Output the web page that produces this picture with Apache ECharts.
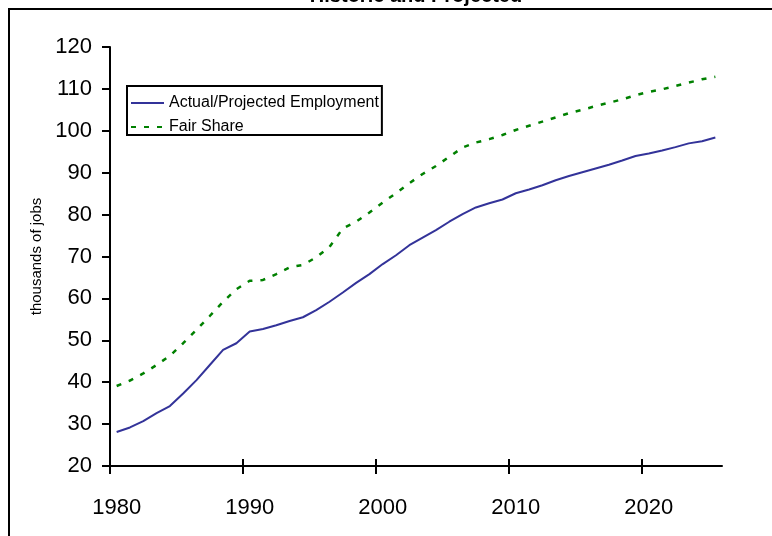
<!DOCTYPE html>
<html>
<head>
<meta charset="utf-8">
<script src="https://cdn.jsdelivr.net/npm/echarts@6/dist/echarts.min.js"></script>
<style>
  html, body { margin: 0; padding: 0; background: #fff; }
  #chart { width: 772px; height: 536px; }
</style>
</head>
<body>
<div id="chart"></div>
<script>
var years = ['1980','1981','1982','1983','1984','1985','1986','1987','1988','1989',
             '1990','1991','1992','1993','1994','1995','1996','1997','1998','1999',
             '2000','2001','2002','2003','2004','2005','2006','2007','2008','2009',
             '2010','2011','2012','2013','2014','2015','2016','2017','2018','2019',
             '2020','2021','2022','2023','2024','2025'];
var actualEmployment = [28.1, 29.2, 30.7, 32.6, 34.3, 37.3, 40.5, 44.1, 47.7, 49.3,
                        52.1, 52.7, 53.6, 54.6, 55.5, 57.2, 59.2, 61.4, 63.7, 65.8,
                        68.2, 70.3, 72.7, 74.5, 76.3, 78.3, 80.1, 81.7, 82.7, 83.6,
                        85.1, 86.0, 87.0, 88.2, 89.2, 90.1, 91.0, 91.9, 92.9, 94.0,
                        94.6, 95.3, 96.1, 97.0, 97.5, 98.4];
var fairShare = [39.1, 40.4, 42.1, 44.1, 46.3, 49.3, 52.5, 55.8, 59.2, 62.2,
                 64.2, 64.4, 65.8, 67.4, 68.0, 69.8, 72.3, 76.7, 78.3, 80.5,
                 82.9, 85.1, 87.5, 89.7, 91.6, 93.8, 96.0, 97.2, 98.0, 99.0,
                 100.2, 101.2, 102.2, 103.2, 104.2, 105.0, 105.9, 106.7, 107.5, 108.5,
                 109.3, 109.9, 110.7, 111.5, 112.3, 112.9];
// decade tick positions, counted in categories from the start of the axis
var decadeTicks = [0, 10, 20, 30, 40];
var seriesNames = ['Actual/Projected Employment', 'Fair Share'];
var titleText = 'Historic and Projected';
var yAxisTitle = 'thousands of jobs';

var FONT = '"Liberation Sans", Arial, sans-serif';
var chart = echarts.init(document.getElementById('chart'), null, { renderer: 'canvas' });

function tickAxis(inside, len) {
  return {
    type: 'value',
    position: 'bottom',
    min: 0, max: years.length, interval: 10,
    axisLine: { show: false },
    axisTick: { show: true, inside: inside, length: len, customValues: decadeTicks,
                lineStyle: { color: '#000', width: 2 } },
    axisLabel: { show: false },
    splitLine: { show: false }
  };
}

var option = {
  animation: false,
  backgroundColor: '#ffffff',
  textStyle: { fontFamily: FONT },
  graphic: [
    { type: 'rect', shape: { x: 9, y: 9, width: 900, height: 700 },
      style: { fill: 'none', stroke: '#000', lineWidth: 2 }, silent: true },
    { type: 'text', x: 416, y: 6,
      style: { text: titleText, font: 'bold 20px "Liberation Sans", Arial, sans-serif',
               fill: '#000', textAlign: 'center', textVerticalAlign: 'bottom' } }
  ],
  grid: { left: 110, right: 50, top: 47, bottom: 70, containLabel: false },
  legend: {
    orient: 'vertical',
    left: 127, top: 86,
    padding: [9, 3, 0, 3],
    itemGap: 8,
    itemWidth: 33, itemHeight: 14,
    borderColor: '#000', borderWidth: 2,
    backgroundColor: '#fff',
    itemStyle: { opacity: 0 },
    textStyle: { fontSize: 16, lineHeight: 14, color: '#000', fontFamily: FONT },
    data: seriesNames
  },
  xAxis: [{
    type: 'category',
    data: years,
    boundaryGap: true,
    axisLine: { show: true, lineStyle: { color: '#000', width: 2 } },
    axisTick: { show: false },
    axisLabel: { interval: 9, fontSize: 22, color: '#000', margin: 31, fontFamily: FONT },
    splitLine: { show: false }
  }, tickAxis(false, 8), tickAxis(true, 7)],
  yAxis: {
    type: 'value',
    min: 20, max: 120, interval: 10,
    name: yAxisTitle,
    nameLocation: 'middle',
    nameRotate: 90,
    nameGap: 66,
    nameTextStyle: { fontSize: 15, color: '#000', fontFamily: FONT },
    axisLine: { show: true, lineStyle: { color: '#000', width: 2 } },
    axisTick: { show: true, length: 8, lineStyle: { color: '#000', width: 2 } },
    axisLabel: { fontSize: 22, color: '#000', margin: 18, fontFamily: FONT },
    splitLine: { show: false }
  },
  series: [{
    name: seriesNames[0],
    type: 'line',
    data: actualEmployment,
    symbol: 'none',
    color: '#333399',
    lineStyle: { color: '#333399', width: 2 }
  }, {
    name: seriesNames[1],
    type: 'line',
    data: fairShare,
    symbol: 'none',
    color: '#008000',
    lineStyle: { color: '#008000', width: 2.5, type: [5, 8] }
  }]
};
chart.setOption(option);
</script>
</body>
</html>
